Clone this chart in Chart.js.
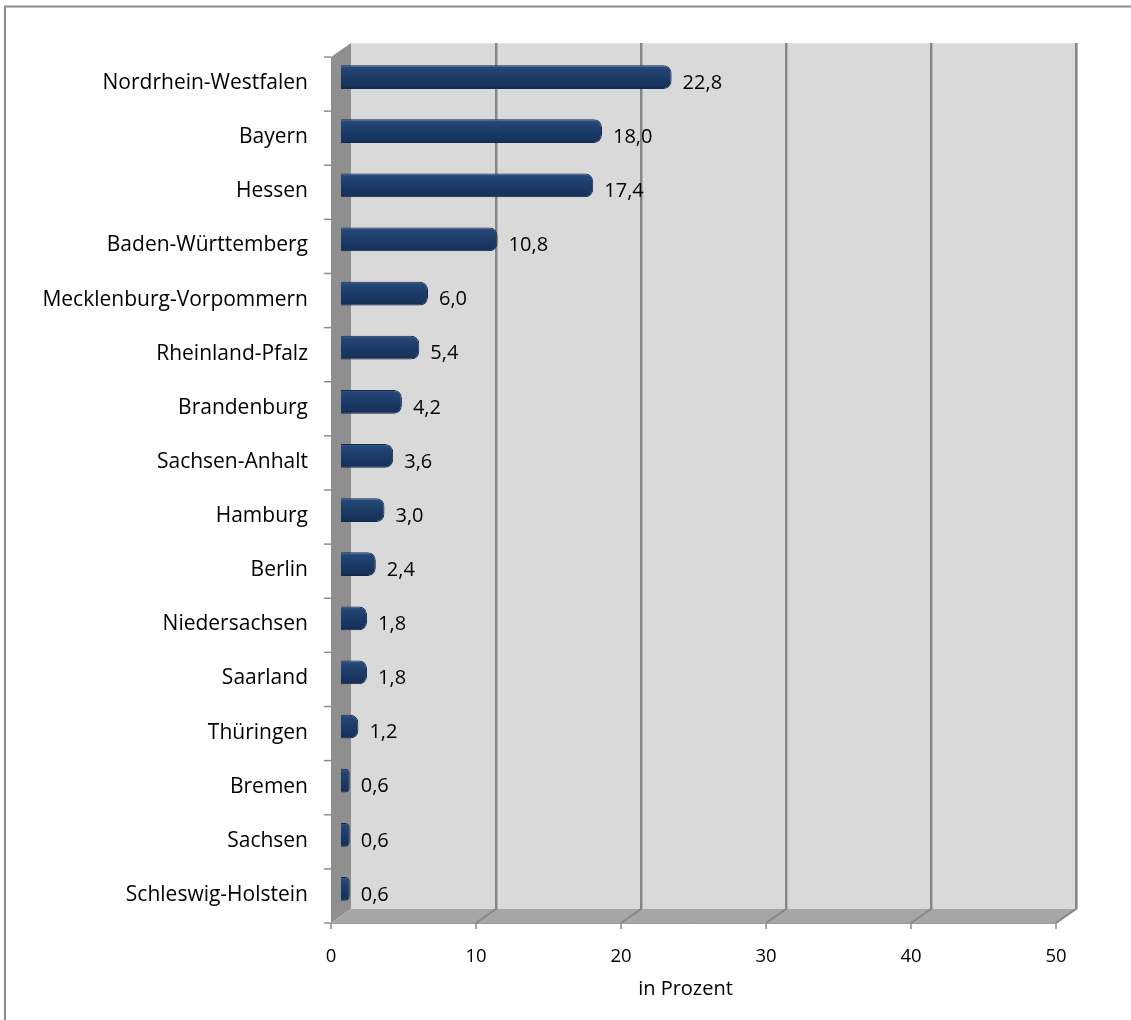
<!DOCTYPE html>
<html>
<head>
<meta charset="utf-8">
<script src="https://cdn.jsdelivr.net/npm/chart.js@4/dist/chart.umd.min.js"></script>
<style>
  html, body { margin: 0; padding: 0; background: #ffffff; overflow: hidden; }
  #wrap { position: absolute; left: 0; top: 0; width: 1131px; height: 1020px; }
</style>
</head>
<body>
<div id="wrap"><canvas id="c" width="1131" height="1020"></canvas></div>
<script>
// ---- data ----
const categories = [
  "Nordrhein-Westfalen", "Bayern", "Hessen", "Baden-Württemberg",
  "Mecklenburg-Vorpommern", "Rheinland-Pfalz", "Brandenburg", "Sachsen-Anhalt",
  "Hamburg", "Berlin", "Niedersachsen", "Saarland", "Thüringen",
  "Bremen", "Sachsen", "Schleswig-Holstein"
];
const values = [22.8, 18.0, 17.4, 10.8, 6.0, 5.4, 4.2, 3.6, 3.0, 2.4, 1.8, 1.8, 1.2, 0.6, 0.6, 0.6];
const xTicks = [0, 10, 20, 30, 40, 50];
const xTitle = "in Prozent";

// ---- style ----
const FONT = "'Open Sans', 'Noto Sans', sans-serif";
const DEPTH_X = 10, DEPTH_Y = 7;   // half depth of the 3D box
const BAR_FRACTION = 0.44;

function fmt(v) { return v.toFixed(1).replace('.', ','); }

const box3d = {
  id: 'box3d',
  beforeDraw(chart) {
    const ctx = chart.ctx;
    const xs = chart.scales.x;
    const a = chart.chartArea;
    const x0 = xs.getPixelForValue(xTicks[0]);
    const x1 = xs.getPixelForValue(xTicks[xTicks.length - 1]);
    const top = a.top, bot = a.bottom;
    ctx.save();
    // outer border (left + top)
    ctx.strokeStyle = '#8c8c8c';
    ctx.lineWidth = 2;
    ctx.beginPath();
    ctx.moveTo(5, chart.height); ctx.lineTo(5, 6.5); ctx.lineTo(chart.width, 6.5);
    ctx.stroke();

    // back wall
    ctx.fillStyle = '#d9d9d9';
    ctx.fillRect(x0 + DEPTH_X, top - DEPTH_Y, x1 - x0, bot - top);
    // left side wall
    ctx.fillStyle = '#8f8f8f';
    ctx.beginPath();
    ctx.moveTo(x0 - DEPTH_X, top + DEPTH_Y);
    ctx.lineTo(x0 + DEPTH_X, top - DEPTH_Y);
    ctx.lineTo(x0 + DEPTH_X, bot - DEPTH_Y);
    ctx.lineTo(x0 - DEPTH_X, bot + DEPTH_Y);
    ctx.closePath(); ctx.fill();
    // floor
    ctx.fillStyle = '#a6a6a6';
    ctx.beginPath();
    ctx.moveTo(x0 - DEPTH_X, bot + DEPTH_Y);
    ctx.lineTo(x0 + DEPTH_X, bot - DEPTH_Y);
    ctx.lineTo(x1 + DEPTH_X, bot - DEPTH_Y);
    ctx.lineTo(x1 - DEPTH_X, bot + DEPTH_Y);
    ctx.closePath(); ctx.fill();

    // top edge highlight of back wall
    ctx.strokeStyle = '#e6e6e6'; ctx.lineWidth = 1;
    ctx.beginPath();
    ctx.moveTo(x0 + DEPTH_X, top - DEPTH_Y + 0.5); ctx.lineTo(x1 + DEPTH_X, top - DEPTH_Y + 0.5);
    ctx.stroke();

    // gridlines on back wall and floor
    xTicks.forEach((t, i) => {
      if (i === 0) return;
      const x = xs.getPixelForValue(t);
      ctx.strokeStyle = '#b4b4b4'; ctx.lineWidth = 1;
      ctx.beginPath();
      ctx.moveTo(x + DEPTH_X + 1.5, top - DEPTH_Y); ctx.lineTo(x + DEPTH_X + 1.5, bot - DEPTH_Y);
      ctx.stroke();
      ctx.strokeStyle = '#868686'; ctx.lineWidth = 2;
      ctx.beginPath();
      ctx.moveTo(x + DEPTH_X, top - DEPTH_Y); ctx.lineTo(x + DEPTH_X, bot - DEPTH_Y);
      ctx.lineTo(x - DEPTH_X, bot + DEPTH_Y);
      ctx.stroke();
    });
    // floor front edge
    ctx.strokeStyle = '#999999'; ctx.lineWidth = 1;
    ctx.beginPath();
    ctx.moveTo(x0 - DEPTH_X, bot + DEPTH_Y + 0.5); ctx.lineTo(x1 - DEPTH_X, bot + DEPTH_Y + 0.5);
    ctx.stroke();
    // x tick marks
    ctx.strokeStyle = '#8c8c8c'; ctx.lineWidth = 1.5;
    xTicks.forEach(t => {
      const x = xs.getPixelForValue(t) - DEPTH_X;
      ctx.beginPath(); ctx.moveTo(x, bot + DEPTH_Y); ctx.lineTo(x, bot + DEPTH_Y + 6); ctx.stroke();
    });
    // category tick marks
    const n = categories.length;
    for (let i = 0; i <= n; i++) {
      const y = top + (bot - top) * i / n + DEPTH_Y;
      ctx.beginPath(); ctx.moveTo(x0 - DEPTH_X - 7, y); ctx.lineTo(x0 - DEPTH_X, y); ctx.stroke();
    }
    ctx.restore();
  },
  afterDraw(chart) {
    // axis title, centred slightly left of the front axis midpoint
    const ctx = chart.ctx;
    const xs = chart.scales.x;
    const x0 = xs.getPixelForValue(xTicks[0]);
    const x1 = xs.getPixelForValue(xTicks[xTicks.length - 1]);
    ctx.save();
    ctx.font = "20px " + FONT;
    ctx.fillStyle = '#000000';
    ctx.textAlign = 'center';
    ctx.textBaseline = 'middle';
    ctx.fillText(xTitle, (x0 + x1) / 2 - DEPTH_X - 8, chart.height - 31);
    ctx.restore();
  }
};

const valueLabels = {
  id: 'valueLabels',
  afterDatasetsDraw(chart) {
    const ctx = chart.ctx;
    const meta = chart.getDatasetMeta(0);
    ctx.save();
    ctx.font = "20px " + FONT;
    ctx.fillStyle = '#000000';
    ctx.textAlign = 'left';
    ctx.textBaseline = 'middle';
    meta.data.forEach((el, i) => {
      ctx.fillText(fmt(chart.data.datasets[0].data[i]), el.x + 11, el.y + 6);
    });
    ctx.restore();
  }
};

function barFill(c) {
  const chart = c.chart;
  const a = chart.chartArea;
  if (!a || c.type !== 'data') return '#1d3c68';
  const ys = chart.scales.y;
  const yc = ys.getPixelForValue(c.dataIndex);
  const half = (a.bottom - a.top) / categories.length * BAR_FRACTION / 2;
  const g = chart.ctx.createLinearGradient(0, yc - half, 0, yc + half);
  g.addColorStop(0, '#3b5f8f');
  g.addColorStop(0.12, '#244777');
  g.addColorStop(0.5, '#1c3b67');
  g.addColorStop(0.88, '#17335c');
  g.addColorStop(1, '#0f2747');
  return g;
}

new Chart(document.getElementById('c'), {
  type: 'bar',
  data: {
    labels: categories,
    datasets: [{
      data: values,
      backgroundColor: barFill,
      borderColor: '#13294a',
      borderWidth: 1,
      borderRadius: { topRight: 8, bottomRight: 8, topLeft: 0, bottomLeft: 0 },
      categoryPercentage: 1,
      barPercentage: BAR_FRACTION
    }]
  },
  options: {
    indexAxis: 'y',
    responsive: false,
    animation: false,
    devicePixelRatio: 1,
    layout: { padding: { left: 0, right: 65, top: 50, bottom: 0 } },
    plugins: { legend: { display: false }, tooltip: { enabled: false } },
    scales: {
      x: {
        type: 'linear',
        min: xTicks[0], max: xTicks[xTicks.length - 1],
        afterFit(s) { s.height = 104; },
        afterBuildTicks(s) { s.ticks = xTicks.map(v => ({ value: v })); },
        grid: { display: false, drawTicks: false },
        border: { display: false },
        ticks: {
          padding: 30, labelOffset: -DEPTH_X,
          color: '#000000', font: { family: FONT, size: 18.5 },
          callback: v => String(v)
        }
      },
      y: {
        afterFit(s) { s.width = 341; },
        grid: { display: false, drawTicks: false },
        border: { display: false },
        ticks: {
          padding: 33, labelOffset: 6, autoSkip: false,
          color: '#000000', font: { family: FONT, size: 21 }
        }
      }
    }
  },
  plugins: [box3d, valueLabels]
});
</script>
</body>
</html>
